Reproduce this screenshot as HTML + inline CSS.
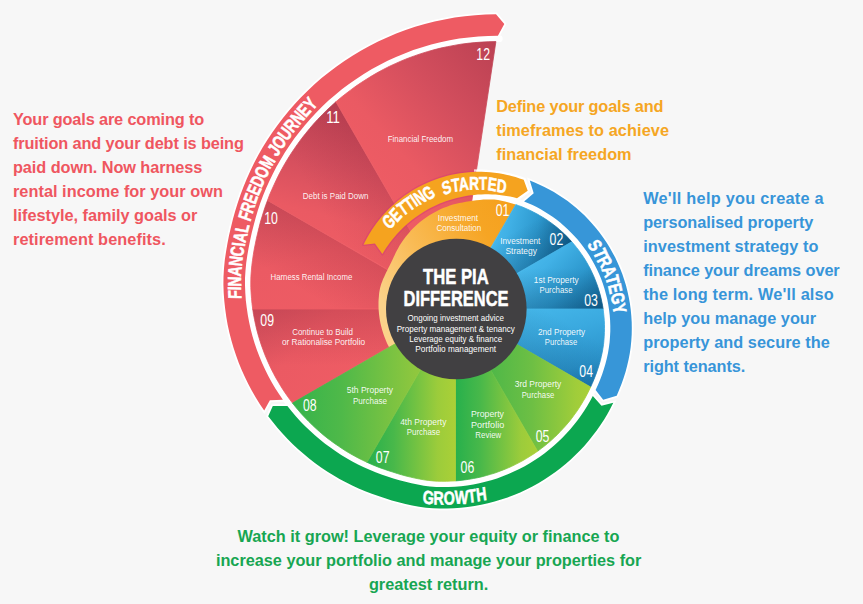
<!DOCTYPE html>
<html lang="en"><head><meta charset="utf-8"><title>The PIA Difference</title>
<style>
html,body{margin:0;padding:0}
body{width:863px;height:604px;overflow:hidden;background:#f7f7f7;position:relative;font-family:"Liberation Sans",sans-serif}
svg{position:absolute;left:0;top:0}
text{font-family:"Liberation Sans",sans-serif;fill:#fff;text-anchor:middle}
.l{fill-opacity:.93}
.t,.c{font-weight:bold}
.c{text-anchor:start;stroke:#fff;stroke-width:.55px}
.t{stroke:#fff;stroke-width:.5px}
.p{position:absolute;font-weight:bold;font-size:16.3px;line-height:24px;height:24px;white-space:nowrap;margin:0}
</style></head><body>
<svg width="863" height="604" viewBox="0 0 863 604">
<defs><linearGradient id="f9" gradientUnits="userSpaceOnUse" x1="455.5" y1="309.0" x2="455.5" y2="365.8"><stop offset="0" stop-color="#8a2238" stop-opacity="0.24"/><stop offset="1" stop-color="#8a2238" stop-opacity="0"/></linearGradient><linearGradient id="f10" gradientUnits="userSpaceOnUse" x1="455.5" y1="309.0" x2="425.1" y2="361.7"><stop offset="0" stop-color="#8a2238" stop-opacity="0.22"/><stop offset="1" stop-color="#8a2238" stop-opacity="0"/></linearGradient><linearGradient id="f11" gradientUnits="userSpaceOnUse" x1="455.5" y1="309.0" x2="397.5" y2="342.5"><stop offset="0" stop-color="#8a2238" stop-opacity="0.14"/><stop offset="1" stop-color="#8a2238" stop-opacity="0"/></linearGradient><linearGradient id="f2" gradientUnits="userSpaceOnUse" x1="455.5" y1="309.0" x2="436.7" y2="276.4"><stop offset="0" stop-color="#083a5c" stop-opacity="0.26"/><stop offset="1" stop-color="#083a5c" stop-opacity="0"/></linearGradient><linearGradient id="f3" gradientUnits="userSpaceOnUse" x1="455.5" y1="309.0" x2="455.5" y2="267.7"><stop offset="0" stop-color="#083a5c" stop-opacity="0.26"/><stop offset="1" stop-color="#083a5c" stop-opacity="0"/></linearGradient><linearGradient id="f4" gradientUnits="userSpaceOnUse" x1="455.5" y1="309.0" x2="477.3" y2="271.2"><stop offset="0" stop-color="#083a5c" stop-opacity="0.14"/><stop offset="1" stop-color="#083a5c" stop-opacity="0"/></linearGradient></defs>
<defs>
<linearGradient id="g2" gradientUnits="userSpaceOnUse" x1="515.9" y1="129.0" x2="595.1" y2="148.8"><stop offset="0" stop-color="#49baed"/><stop offset="0.2" stop-color="#41b1e6"/><stop offset="0.55" stop-color="#2d98ce"/><stop offset="1" stop-color="#0f5e8e"/></linearGradient>
<linearGradient id="g3" gradientUnits="userSpaceOnUse" x1="401.8" y1="388.5" x2="466.1" y2="450.7"><stop offset="0" stop-color="#49baed"/><stop offset="0.2" stop-color="#41b1e6"/><stop offset="0.55" stop-color="#2d98ce"/><stop offset="1" stop-color="#0f5e8e"/></linearGradient>
<linearGradient id="g4" gradientUnits="userSpaceOnUse" x1="121.2" y1="423.6" x2="147.0" y2="513.9"><stop offset="0" stop-color="#45b7ea"/><stop offset="0.35" stop-color="#3aa9df"/><stop offset="0.75" stop-color="#2b93cb"/><stop offset="1" stop-color="#1b79b2"/></linearGradient>
<linearGradient id="g5" gradientUnits="userSpaceOnUse" x1="492.4" y1="0.0" x2="590.6" y2="0.0"><stop offset="0" stop-color="#50b848"/><stop offset="0.4" stop-color="#6dbf44"/><stop offset="0.85" stop-color="#a0cd3a"/><stop offset="1" stop-color="#aad037"/></linearGradient>
<linearGradient id="g6" gradientUnits="userSpaceOnUse" x1="455.5" y1="0.0" x2="537.6" y2="0.0"><stop offset="0" stop-color="#27b04c"/><stop offset="0.3" stop-color="#48b84a"/><stop offset="0.8" stop-color="#9ccc3b"/><stop offset="1" stop-color="#aad037"/></linearGradient>
<linearGradient id="g7" gradientUnits="userSpaceOnUse" x1="367.0" y1="0.0" x2="455.5" y2="0.0"><stop offset="0" stop-color="#27b04c"/><stop offset="0.3" stop-color="#48b84a"/><stop offset="0.8" stop-color="#9ccc3b"/><stop offset="1" stop-color="#aad037"/></linearGradient>
<linearGradient id="g8" gradientUnits="userSpaceOnUse" x1="292.5" y1="0.0" x2="415.7" y2="0.0"><stop offset="0" stop-color="#35b34b"/><stop offset="0.4" stop-color="#4fb949"/><stop offset="1" stop-color="#8fc73e"/></linearGradient>
<linearGradient id="g9" gradientUnits="userSpaceOnUse" x1="373.1" y1="360.7" x2="285.0" y2="275.6"><stop offset="0" stop-color="#ee5c64"/><stop offset="0.5" stop-color="#eb5a63"/><stop offset="1" stop-color="#d9535f"/></linearGradient>
<linearGradient id="g10" gradientUnits="userSpaceOnUse" x1="109.3" y1="381.9" x2="73.2" y2="256.0"><stop offset="0" stop-color="#ee5c64"/><stop offset="0.5" stop-color="#eb5a63"/><stop offset="1" stop-color="#d9535f"/></linearGradient>
<linearGradient id="g11" gradientUnits="userSpaceOnUse" x1="-39.4" y1="157.6" x2="-4.2" y2="16.8"><stop offset="0" stop-color="#ee5c64"/><stop offset="0.22" stop-color="#ea5a63"/><stop offset="0.58" stop-color="#d34e5d"/><stop offset="1" stop-color="#bb4153"/></linearGradient>
<linearGradient id="g12" gradientUnits="userSpaceOnUse" x1="117.0" y1="-104.1" x2="256.1" y2="-227.9"><stop offset="0" stop-color="#ee5c64"/><stop offset="0.22" stop-color="#ea5a63"/><stop offset="0.58" stop-color="#d34e5d"/><stop offset="1" stop-color="#bb4153"/></linearGradient>
<linearGradient id="gor" gradientUnits="userSpaceOnUse" x1="380.0" y1="300.0" x2="520.0" y2="210.0"><stop offset="0" stop-color="#fbd28a"/><stop offset="0.35" stop-color="#f9bb55"/><stop offset="0.75" stop-color="#f6a524"/><stop offset="1" stop-color="#f5a01c"/></linearGradient>
</defs>
<path d="M437.6,207.4 L441.0,205.9 L444.5,204.5 L448.1,203.2 L451.7,202.0 L455.5,201.0 L459.3,200.1 L463.1,199.3 L467.0,198.8 L471.0,198.2 L475.1,197.6 L479.2,197.2 L483.4,196.8 L487.6,196.6 L491.9,196.6 L496.2,196.9 L500.4,197.5 L504.6,198.4 L508.7,199.5 L512.9,200.7 L517.1,202.0 L521.2,203.5 L525.3,205.1 L529.4,206.9 L533.5,208.8 L537.5,210.9 L541.5,213.1 L545.4,215.5 L549.3,218.1 L553.1,220.8 L556.8,223.6 L560.5,226.6 L564.0,229.8 L567.5,233.0 L570.9,236.5 L574.2,240.1 L577.3,243.8 L580.4,247.7 L583.3,251.7 L586.1,255.8 L588.7,260.1 L591.2,264.5 L593.5,269.0 L595.7,273.6 L597.7,278.3 L599.6,283.1 L601.2,288.0 L602.7,293.0 L604.0,298.1 L605.1,303.2 L605.9,308.4 L606.6,313.7 L607.1,319.0 L607.3,324.4 L607.4,329.7 L607.2,335.1 L606.8,340.5 L606.2,345.9 L605.4,351.3 L604.3,356.6 L602.9,361.9 L601.4,367.2 L599.7,372.4 L597.8,377.6 L595.7,382.7 L593.5,387.8 L591.1,392.8 L588.5,397.8 L585.8,402.7 L582.8,407.5 L579.8,412.2 L576.5,416.8 L573.1,421.3 L569.5,425.7 L565.7,430.0 L561.8,434.2 L557.7,438.3 L553.4,442.2 L549.1,446.0 L544.5,449.7 L539.9,453.1 L535.0,456.5 L530.1,459.7 L525.0,462.7 L519.9,465.5 L514.5,468.1 L509.1,470.6 L503.6,472.9 L498.0,475.0 L492.3,476.8 L486.5,478.5 L480.7,480.0 L474.8,481.2 L468.8,482.3 L462.8,483.1 L456.7,483.7 L450.6,484.1 L444.5,484.2 L438.4,484.1 L432.2,483.8 L426.1,483.1 L420.0,482.1 L414.0,480.9 L408.0,479.5 L402.0,477.9 L396.1,476.2 L390.2,474.3 L384.3,472.4 L378.4,470.2 L372.6,467.9 L366.9,465.4 L361.2,462.7 L355.5,459.8 L350.0,456.8 L344.5,453.5 L339.1,450.1 L333.8,446.5 L328.6,442.7 L323.5,438.7 L318.5,434.6 L313.6,430.2 L308.8,425.7 L304.2,421.0 L299.7,416.2 L295.3,411.1 L291.1,405.9 L287.0,400.6 L283.1,395.1 L279.4,389.4 L275.8,383.6 L272.5,377.6 L269.3,371.5 L266.3,365.3 L263.5,358.9 L260.9,352.4 L258.5,345.8 L256.4,339.0 L254.4,332.2 L252.8,325.2 L251.3,318.2 L250.1,311.1 L249.1,303.9 L248.4,296.7 L248.0,289.4 L247.9,282.1 L248.1,274.7 L248.7,267.4 L249.5,260.0 L250.7,252.7 L252.0,245.3 L253.6,238.0 L255.3,230.7 L257.1,223.3 L259.2,216.0 L261.5,208.6 L264.0,201.3 L266.8,194.1 L269.8,186.9 L273.1,179.7 L276.7,172.6 L280.4,165.6 L284.5,158.6 L288.8,151.8 L293.3,145.0 L298.1,138.4 L303.1,131.8 L308.4,125.4 L314.0,119.2 L319.8,113.1 L325.8,107.1 L332.1,101.3 L338.6,95.7 L345.4,90.3 L352.4,85.1 L359.6,80.1 L367.0,75.4 L374.7,70.9 L382.6,66.6 L390.6,62.6 L398.9,58.9 L407.3,55.4 L415.9,52.3 L424.7,49.4 L433.6,46.9 L442.7,44.7 L451.9,42.8 L461.2,41.3 L470.6,40.1 L480.1,39.3 L489.7,38.8 L499.3,38.7" fill="none" stroke="#fff" stroke-width="6.8" stroke-linecap="round"/>
<path d="M455.5,309.0 L292.5,403.1 L289.5,399.1 L286.6,395.0 L283.8,390.9 L281.1,386.7 L278.5,382.3 L275.9,377.9 L273.5,373.4 L271.2,368.9 L269.0,364.2 L266.9,359.5 L264.9,354.8 L263.1,349.9 L261.3,345.0 L259.7,340.0 L258.2,335.0 L256.8,329.9 L255.6,324.7 L254.5,319.5 L253.5,314.3 L252.7,309.0Z" fill="url(#g9)" stroke="url(#g9)" stroke-width="0.8" stroke-linejoin="round"/>
<path d="M455.5,309.0 L291.5,401.8 L288.6,397.8 L285.8,393.8 L283.0,389.7 L280.4,385.5 L277.8,381.2 L275.4,376.9 L273.0,372.5 L270.8,368.0 L268.6,363.4 L266.6,358.7 L264.6,354.0 L262.8,349.3 L261.1,344.4 L259.5,339.5 L258.1,334.6 L256.8,329.5 L255.6,324.5 L254.5,319.4 L253.5,314.2 L252.7,309.0Z" fill="url(#f9)"/>
<path d="M455.5,309.0 L252.7,309.0 L252.0,303.7 L251.5,298.3 L251.1,292.9 L250.8,287.5 L250.8,282.0 L250.9,276.6 L251.3,271.1 L251.8,265.7 L252.5,260.3 L253.3,254.8 L254.2,249.4 L255.3,243.9 L256.4,238.5 L257.7,233.1 L259.0,227.6 L260.4,222.1 L262.0,216.7 L263.7,211.3 L265.5,205.8 L267.5,200.4Z" fill="url(#g10)" stroke="url(#g10)" stroke-width="0.8" stroke-linejoin="round"/>
<path d="M455.5,309.0 L252.5,307.2 L251.8,302.0 L251.3,296.7 L251.0,291.4 L250.8,286.0 L250.8,280.7 L251.0,275.3 L251.4,270.0 L251.9,264.6 L252.6,259.3 L253.4,253.9 L254.4,248.6 L255.4,243.2 L256.6,237.9 L257.8,232.5 L259.1,227.2 L260.5,221.8 L262.1,216.4 L263.7,211.1 L265.5,205.7 L267.5,200.4Z" fill="url(#f10)"/>
<path d="M455.5,309.0 L267.5,200.4 L269.5,195.0 L271.8,189.7 L274.2,184.4 L276.7,179.1 L279.3,173.8 L282.1,168.6 L285.0,163.4 L288.1,158.3 L291.3,153.2 L294.7,148.2 L298.2,143.2 L301.8,138.3 L305.6,133.5 L309.5,128.7 L313.5,124.0 L317.7,119.4 L322.1,114.9 L326.5,110.4 L331.2,106.1 L335.9,101.8Z" fill="url(#g11)" stroke="url(#g11)" stroke-width="0.8" stroke-linejoin="round"/>
<path d="M455.5,309.0 L268.1,198.6 L270.2,193.3 L272.5,188.1 L274.8,182.9 L277.4,177.7 L280.0,172.5 L282.8,167.4 L285.7,162.3 L288.7,157.2 L291.9,152.3 L295.2,147.3 L298.7,142.5 L302.3,137.6 L306.0,132.9 L309.9,128.2 L313.9,123.6 L318.0,119.1 L322.3,114.6 L326.7,110.3 L331.2,106.0 L335.9,101.8Z" fill="url(#f11)"/>
<path d="M455.5,309.0 L335.9,101.8 L340.7,97.7 L345.7,93.8 L350.8,89.9 L356.0,86.1 L361.3,82.5 L366.8,79.0 L372.3,75.6 L378.0,72.3 L383.8,69.2 L389.7,66.2 L395.8,63.4 L401.9,60.7 L408.1,58.2 L414.4,55.9 L420.8,53.7 L427.3,51.7 L433.9,49.8 L440.6,48.1 L447.3,46.7 L454.1,45.4 L460.9,44.2 L467.9,43.3 L474.8,42.6 L481.8,42.1 L488.9,41.7 L495.9,41.6Z" fill="url(#g12)" stroke="url(#g12)" stroke-width="0.8" stroke-linejoin="round"/>
<path d="M455.5,309.0 L392.5,353.1 L391.3,351.1 L390.1,349.1 L389.0,347.0 L387.9,345.0 L386.9,342.9 L386.0,340.7 L385.1,338.6 L384.3,336.4 L383.5,334.3 L382.8,332.1 L382.1,329.8 L381.5,327.6 L380.9,325.3 L380.4,323.1 L380.0,320.8 L379.6,318.5 L379.3,316.2 L379.0,313.9 L378.8,311.6 L378.6,309.2 L378.5,306.9 L378.5,304.5 L378.5,302.2 L378.6,299.8 L378.8,297.5 L379.0,295.1 L379.2,292.8 L379.6,290.4 L380.1,288.1 L380.7,285.8 L381.4,283.5 L382.3,281.3 L383.1,279.1 L384.1,276.9 L385.1,274.7 L386.1,272.6 L387.2,270.4 L388.2,268.3 L389.3,266.2 L390.4,264.0 L391.5,261.8 L392.6,259.6 L393.6,257.3 L394.7,254.9 L395.8,252.6 L397.0,250.3 L398.3,247.9 L399.6,245.6 L401.1,243.3 L402.6,241.1 L404.2,238.8 L405.9,236.6 L407.6,234.4 L409.5,232.3 L411.4,230.1 L413.4,228.1 L415.5,226.0 L417.7,224.1 L420.0,222.1 L422.3,220.3 L424.7,218.4 L427.2,216.7 L429.8,215.0 L432.5,213.4 L435.2,211.9 L438.0,210.5 L440.9,209.1 L443.8,207.8 L446.9,206.7 L449.9,205.6 L453.0,204.6 L456.2,203.8 L459.5,203.0 L462.7,202.4 L466.0,201.8 L469.4,201.3 L472.8,200.8 L476.3,200.3 L479.9,199.9 L483.4,199.6 L487.1,199.4 L490.7,199.4 L494.3,199.6 L498.0,200.0 L501.5,200.7 L505.1,201.5 L508.7,202.4 L512.2,203.5 L515.8,204.6Z" fill="url(#gor)"/>
<path d="M455.5,309.0 L515.8,204.6 L518.8,205.7 L521.9,206.8 L524.9,208.1 L527.9,209.4 L530.9,210.8 L533.8,212.3 L536.8,213.8 L539.7,215.5 L542.6,217.2 L545.5,219.0 L548.3,220.9 L551.1,222.9 L553.9,225.0 L556.6,227.1 L559.3,229.4 L561.9,231.7 L564.5,234.1 L567.0,236.6 L569.4,239.2 L571.8,241.8Z" fill="url(#g2)" stroke="url(#g2)" stroke-width="0.8" stroke-linejoin="round"/>
<path d="M455.5,309.0 L516.8,205.0 L519.8,206.0 L522.8,207.2 L525.7,208.4 L528.7,209.7 L531.6,211.1 L534.5,212.6 L537.4,214.2 L540.3,215.8 L543.1,217.5 L546.0,219.3 L548.7,221.2 L551.5,223.2 L554.2,225.2 L556.8,227.4 L559.5,229.6 L562.1,231.9 L564.6,234.2 L567.1,236.7 L569.5,239.2 L571.8,241.8Z" fill="url(#f2)"/>
<path d="M455.5,309.0 L571.8,241.8 L574.2,244.6 L576.5,247.4 L578.7,250.2 L580.8,253.2 L582.9,256.2 L584.9,259.3 L586.8,262.5 L588.6,265.7 L590.4,269.1 L592.0,272.4 L593.6,275.9 L595.0,279.3 L596.4,282.9 L597.7,286.5 L598.8,290.1 L599.9,293.8 L600.9,297.6 L601.7,301.3 L602.5,305.2 L603.1,309.0Z" fill="url(#g3)" stroke="url(#g3)" stroke-width="0.8" stroke-linejoin="round"/>
<path d="M455.5,309.0 L572.6,242.7 L574.9,245.4 L577.1,248.2 L579.3,251.1 L581.4,254.0 L583.4,257.0 L585.3,260.1 L587.2,263.2 L589.0,266.4 L590.7,269.7 L592.3,273.0 L593.8,276.4 L595.2,279.8 L596.6,283.3 L597.8,286.8 L598.9,290.4 L600.0,294.1 L600.9,297.7 L601.7,301.5 L602.5,305.2 L603.1,309.0Z" fill="url(#f3)"/>
<path d="M455.5,309.0 L603.1,309.0 L603.6,312.9 L604.0,316.8 L604.3,320.7 L604.5,324.7 L604.5,328.6 L604.4,332.6 L604.2,336.6 L603.9,340.5 L603.5,344.5 L602.9,348.5 L602.2,352.4 L601.3,356.4 L600.4,360.3 L599.3,364.2 L598.1,368.1 L596.8,371.9 L595.4,375.7 L593.9,379.5 L592.3,383.3 L590.6,387.0Z" fill="url(#g4)" stroke="url(#g4)" stroke-width="0.8" stroke-linejoin="round"/>
<path d="M455.5,309.0 L603.3,310.3 L603.7,314.1 L604.1,318.0 L604.3,321.8 L604.5,325.7 L604.5,329.6 L604.4,333.5 L604.2,337.4 L603.8,341.3 L603.4,345.3 L602.8,349.2 L602.1,353.0 L601.2,356.9 L600.3,360.8 L599.2,364.6 L598.0,368.4 L596.7,372.2 L595.3,375.9 L593.9,379.6 L592.3,383.3 L590.6,387.0Z" fill="url(#f4)"/>
<path d="M455.5,309.0 L590.6,387.0 L588.9,390.7 L587.0,394.4 L585.1,398.0 L583.0,401.6 L580.8,405.2 L578.6,408.7 L576.3,412.1 L573.8,415.5 L571.3,418.9 L568.7,422.2 L565.9,425.4 L563.1,428.5 L560.2,431.6 L557.3,434.7 L554.2,437.6 L551.0,440.5 L547.8,443.3 L544.5,446.0 L541.1,448.6 L537.6,451.2Z" fill="url(#g5)" stroke="url(#g5)" stroke-width="0.8" stroke-linejoin="round"/>
<path d="M455.5,309.0 L537.6,451.2 L534.0,453.7 L530.4,456.0 L526.7,458.3 L523.0,460.5 L519.1,462.6 L515.2,464.6 L511.3,466.5 L507.2,468.3 L503.2,469.9 L499.0,471.5 L494.9,473.0 L490.6,474.3 L486.4,475.5 L482.1,476.7 L477.7,477.7 L473.3,478.5 L468.9,479.3 L464.5,479.9 L460.0,480.5 L455.5,480.9Z" fill="url(#g6)" stroke="url(#g6)" stroke-width="0.8" stroke-linejoin="round"/>
<path d="M455.5,309.0 L455.5,480.9 L451.0,481.1 L446.5,481.3 L441.9,481.3 L437.4,481.2 L432.9,480.9 L428.3,480.4 L423.8,479.8 L419.4,479.0 L414.9,478.1 L410.5,477.1 L406.0,476.0 L401.6,474.8 L397.3,473.5 L392.9,472.1 L388.5,470.7 L384.2,469.2 L379.8,467.7 L375.5,466.0 L371.2,464.2 L367.0,462.3Z" fill="url(#g7)" stroke="url(#g7)" stroke-width="0.8" stroke-linejoin="round"/>
<path d="M455.5,309.0 L367.0,462.3 L362.8,460.3 L358.6,458.2 L354.5,456.0 L350.4,453.7 L346.3,451.3 L342.3,448.7 L338.4,446.1 L334.5,443.4 L330.6,440.6 L326.8,437.7 L323.1,434.7 L319.4,431.5 L315.8,428.3 L312.3,425.0 L308.8,421.6 L305.4,418.1 L302.0,414.5 L298.8,410.8 L295.6,407.0 L292.5,403.1Z" fill="url(#g8)" stroke="url(#g8)" stroke-width="0.8" stroke-linejoin="round"/>
<circle cx="456.3" cy="309" r="70.3" fill="#414042"/>
<path d="M601.5,405.8 L592.8,395.9 L590.1,400.9 L587.2,405.9 L584.2,410.7 L581.0,415.5 L577.6,420.2 L574.0,424.7 L570.3,429.2 L566.4,433.5 L562.4,437.7 L558.2,441.8 L553.8,445.8 L549.3,449.6 L544.7,453.2 L539.9,456.7 L534.9,460.0 L529.8,463.2 L524.7,466.2 L519.3,469.0 L513.9,471.6 L508.4,474.1 L502.7,476.3 L497.0,478.4 L491.2,480.2 L485.3,481.8 L479.3,483.2 L473.3,484.4 L467.2,485.4 L461.1,486.2 L454.9,486.7 L448.7,487.0 L442.5,487.1 L436.2,486.9 L430.0,486.5 L423.8,485.7 L417.7,484.6 L411.5,483.3 L405.5,481.8 L399.4,480.2 L393.4,478.4 L387.4,476.4 L381.4,474.4 L375.5,472.2 L369.6,469.8 L363.8,467.2 L358.0,464.4 L352.3,461.4 L346.7,458.2 L341.2,454.9 L335.7,451.3 L330.4,447.6 L325.1,443.7 L319.9,439.6 L314.9,435.3 L310.0,430.8 L305.2,426.2 L300.5,421.4 L296.0,416.4 L291.6,411.2 L287.4,405.9 L272.8,406.1 L268.2,416.2 L272.8,422.1 L277.6,427.9 L282.5,433.6 L287.6,439.0 L292.8,444.2 L298.2,449.2 L303.8,454.1 L309.4,458.7 L315.2,463.2 L321.1,467.4 L327.1,471.4 L333.3,475.3 L339.5,478.9 L345.8,482.3 L352.2,485.5 L358.6,488.5 L365.2,491.2 L371.8,493.8 L378.4,496.1 L385.1,498.3 L391.8,500.4 L398.6,502.3 L405.4,504.0 L412.2,505.5 L419.1,506.7 L426.0,507.7 L433.0,508.3 L439.9,508.6 L446.9,508.6 L453.8,508.3 L460.8,507.8 L467.6,507.1 L474.5,506.1 L481.2,504.8 L488.0,503.3 L494.6,501.6 L501.1,499.6 L507.6,497.4 L514.0,495.0 L520.2,492.4 L526.4,489.5 L532.4,486.5 L538.3,483.2 L544.0,479.7 L549.6,476.1 L555.1,472.2 L560.4,468.2 L565.6,464.0 L570.5,459.7 L575.4,455.1 L580.0,450.5 L584.5,445.7 L588.7,440.7 L592.8,435.6 L596.7,430.4 L600.5,425.1 L604.0,419.7 L607.3,414.2 L610.4,408.5 L613.3,402.8Z" fill="#0ca750" stroke="#fff" stroke-width="3.5" paint-order="stroke" stroke-linejoin="miter"/>
<path d="M533.7,193.3 L524.1,201.5 L528.3,203.2 L532.5,205.1 L536.6,207.1 L540.7,209.3 L544.7,211.7 L548.7,214.2 L552.6,216.8 L556.4,219.6 L560.2,222.6 L563.8,225.7 L567.4,229.0 L570.9,232.4 L574.3,235.9 L577.6,239.6 L580.8,243.5 L583.8,247.4 L586.7,251.6 L589.5,255.8 L592.1,260.2 L594.6,264.7 L596.9,269.3 L599.1,274.0 L601.1,278.8 L602.9,283.8 L604.5,288.8 L605.9,293.9 L607.2,299.0 L608.2,304.3 L609.0,309.6 L609.7,314.9 L610.1,320.3 L610.3,325.8 L610.3,331.2 L610.0,336.7 L609.6,342.2 L608.9,347.6 L608.0,353.1 L606.8,358.5 L605.4,363.9 L603.8,369.2 L602.1,374.5 L600.1,379.7 L597.9,384.9 L595.6,390.0 L603.2,399.8 L616.7,395.7 L619.2,389.8 L621.6,383.8 L623.7,377.8 L625.6,371.7 L627.2,365.6 L628.6,359.4 L629.8,353.2 L630.7,347.0 L631.3,340.7 L631.7,334.4 L631.8,328.2 L631.7,322.0 L631.3,315.8 L630.7,309.6 L629.9,303.5 L628.8,297.5 L627.5,291.5 L626.0,285.6 L624.2,279.8 L622.3,274.1 L620.1,268.5 L617.7,263.0 L615.2,257.6 L612.4,252.4 L609.5,247.3 L606.4,242.3 L603.1,237.5 L599.7,232.8 L596.1,228.2 L592.4,223.9 L588.6,219.7 L584.6,215.6 L580.5,211.7 L576.3,208.0 L572.0,204.5 L567.6,201.1 L563.1,198.0 L558.5,195.0 L553.9,192.1 L549.2,189.5 L544.4,187.0 L539.6,184.7 L534.7,182.6 L529.8,180.6Z" fill="#3796d8" stroke="#fff" stroke-width="3.5" paint-order="stroke" stroke-linejoin="miter"/>
<path d="M269.9,400.3 L282.9,399.8 L279.0,394.1 L275.2,388.2 L271.7,382.2 L268.3,376.0 L265.2,369.7 L262.2,363.3 L259.5,356.7 L256.9,350.0 L254.6,343.2 L252.5,336.3 L250.7,329.2 L249.1,322.1 L247.8,314.9 L246.7,307.6 L245.8,300.2 L245.3,292.8 L245.0,285.3 L245.0,277.9 L245.5,270.4 L246.2,262.9 L247.3,255.4 L248.6,247.9 L250.1,240.4 L251.7,232.9 L253.6,225.4 L255.6,217.9 L257.8,210.5 L260.3,203.0 L263.1,195.6 L266.1,188.2 L269.4,180.9 L272.9,173.7 L276.6,166.5 L280.7,159.4 L285.0,152.3 L289.5,145.4 L294.3,138.6 L299.4,131.9 L304.7,125.4 L310.3,119.0 L316.1,112.7 L322.2,106.6 L328.5,100.6 L335.1,94.9 L341.9,89.3 L349.0,84.0 L356.3,78.9 L363.8,74.0 L371.5,69.3 L379.5,64.9 L387.6,60.8 L396.0,56.9 L404.6,53.4 L413.3,50.1 L422.2,47.2 L431.2,44.5 L440.4,42.2 L449.7,40.3 L459.2,38.6 L468.7,37.4 L478.4,36.5 L488.1,36.0 L497.9,35.8 L504.3,23.9 L496.0,14.3 L485.5,14.5 L475.2,15.2 L464.9,16.2 L454.7,17.6 L444.6,19.4 L434.6,21.5 L424.8,24.0 L415.1,26.8 L405.6,30.0 L396.2,33.6 L387.1,37.4 L378.1,41.5 L369.4,46.0 L360.8,50.7 L352.5,55.7 L344.4,60.9 L336.6,66.4 L329.0,72.2 L321.6,78.1 L314.5,84.3 L307.7,90.7 L301.1,97.3 L294.8,104.0 L288.7,110.9 L283.0,118.0 L277.5,125.2 L272.3,132.6 L267.3,140.0 L262.6,147.6 L258.2,155.3 L254.1,163.1 L250.3,170.9 L246.7,178.9 L243.4,186.9 L240.4,194.9 L237.7,203.0 L235.2,211.1 L232.9,219.3 L230.9,227.4 L229.0,235.6 L227.4,243.7 L226.0,251.9 L224.8,260.1 L224.0,268.3 L223.5,276.5 L223.4,284.7 L223.7,292.9 L224.3,301.0 L225.2,309.0 L226.3,317.0 L227.7,324.9 L229.4,332.8 L231.4,340.5 L233.6,348.1 L236.1,355.6 L238.8,363.0 L241.8,370.2 L245.0,377.3 L248.4,384.3 L252.0,391.1 L255.9,397.7 L259.9,404.2 L264.2,410.6Z" fill="#ee5b63" stroke="#fff" stroke-width="3.5" paint-order="stroke" stroke-linejoin="miter"/>
<clipPath id="cw"><rect x="474" y="150" width="100" height="80"/></clipPath>
<path d="M363.5,244.7 L365.4,240.9 L367.4,237.2 L369.6,233.5 L371.9,229.8 L374.3,226.3 L376.8,222.8 L379.4,219.4 L382.2,216.1 L385.0,212.9 L388.0,209.8 L391.1,206.8 L394.3,203.9 L397.6,201.1 L401.0,198.4 L404.4,195.8 L408.0,193.4 L411.6,191.0 L415.3,188.8 L419.1,186.7 L423.0,184.8 L426.9,182.9 L430.9,181.2 L434.9,179.7 L439.0,178.2 L443.2,177.0 L447.4,175.8 L451.6,174.8 L455.8,173.9 L460.1,173.2 L464.4,172.7 L468.7,172.2 L473.0,171.9 L477.3,171.8 L481.6,171.8 L485.9,172.0 L490.2,172.3 L494.5,172.7 L498.8,173.3 L503.0,174.0 L507.2,174.9 L511.4,175.9 L515.5,177.1 L519.6,178.4 L523.7,179.8 L527.7,190.7 L517.0,198.2 L513.5,197.3 L510.0,196.6 L506.4,195.9 L502.9,195.4 L499.3,194.9 L495.7,194.6 L492.1,194.4 L488.5,194.3 L484.9,194.3 L481.4,194.4 L477.8,194.6 L474.2,194.9 L470.7,195.3 L467.2,195.8 L463.7,196.4 L460.2,197.2 L456.7,198.0 L453.3,198.9 L449.9,199.9 L446.5,201.1 L443.2,202.3 L439.9,203.6 L436.7,205.0 L433.5,206.5 L430.3,208.1 L427.2,209.8 L424.2,211.6 L421.2,213.5 L418.2,215.4 L415.3,217.5 L412.5,219.6 L409.8,221.8 L407.1,224.1 L404.4,226.5 L401.9,228.9 L399.4,231.5 L397.0,234.1 L394.7,236.7 L392.4,239.5 L390.2,242.3 L388.1,245.2 L386.1,248.1 L384.2,251.1 L382.4,254.1 L374.9,243.5Z" fill="none" stroke="#fff" stroke-width="4.6" clip-path="url(#cw)"/>
<clipPath id="cs"><path d="M300,120 L479.8,148 L476.8,168 L472.2,198 L463,260 L340,280Z"/></clipPath>
<path d="M363.5,244.7 L365.4,240.9 L367.4,237.2 L369.6,233.5 L371.9,229.8 L374.3,226.3 L376.8,222.8 L379.4,219.4 L382.2,216.1 L385.0,212.9 L388.0,209.8 L391.1,206.8 L394.3,203.9 L397.6,201.1 L401.0,198.4 L404.4,195.8 L408.0,193.4 L411.6,191.0 L415.3,188.8 L419.1,186.7 L423.0,184.8 L426.9,182.9 L430.9,181.2 L434.9,179.7 L439.0,178.2 L443.2,177.0 L447.4,175.8 L451.6,174.8 L455.8,173.9 L460.1,173.2 L464.4,172.7 L468.7,172.2 L473.0,171.9 L477.3,171.8 L481.6,171.8 L485.9,172.0 L490.2,172.3 L494.5,172.7 L498.8,173.3 L503.0,174.0 L507.2,174.9 L511.4,175.9 L515.5,177.1 L519.6,178.4 L523.7,179.8 L527.7,190.7 L517.0,198.2 L513.5,197.3 L510.0,196.6 L506.4,195.9 L502.9,195.4 L499.3,194.9 L495.7,194.6 L492.1,194.4 L488.5,194.3 L484.9,194.3 L481.4,194.4 L477.8,194.6 L474.2,194.9 L470.7,195.3 L467.2,195.8 L463.7,196.4 L460.2,197.2 L456.7,198.0 L453.3,198.9 L449.9,199.9 L446.5,201.1 L443.2,202.3 L439.9,203.6 L436.7,205.0 L433.5,206.5 L430.3,208.1 L427.2,209.8 L424.2,211.6 L421.2,213.5 L418.2,215.4 L415.3,217.5 L412.5,219.6 L409.8,221.8 L407.1,224.1 L404.4,226.5 L401.9,228.9 L399.4,231.5 L397.0,234.1 L394.7,236.7 L392.4,239.5 L390.2,242.3 L388.1,245.2 L386.1,248.1 L384.2,251.1 L382.4,254.1 L374.9,243.5Z" fill="none" stroke="#d23a78" stroke-opacity=".45" stroke-width="2.6" stroke-linejoin="round" clip-path="url(#cs)"/>
<path d="M363.5,244.7 L365.4,240.9 L367.4,237.2 L369.6,233.5 L371.9,229.8 L374.3,226.3 L376.8,222.8 L379.4,219.4 L382.2,216.1 L385.0,212.9 L388.0,209.8 L391.1,206.8 L394.3,203.9 L397.6,201.1 L401.0,198.4 L404.4,195.8 L408.0,193.4 L411.6,191.0 L415.3,188.8 L419.1,186.7 L423.0,184.8 L426.9,182.9 L430.9,181.2 L434.9,179.7 L439.0,178.2 L443.2,177.0 L447.4,175.8 L451.6,174.8 L455.8,173.9 L460.1,173.2 L464.4,172.7 L468.7,172.2 L473.0,171.9 L477.3,171.8 L481.6,171.8 L485.9,172.0 L490.2,172.3 L494.5,172.7 L498.8,173.3 L503.0,174.0 L507.2,174.9 L511.4,175.9 L515.5,177.1 L519.6,178.4 L523.7,179.8 L527.7,190.7 L517.0,198.2 L513.5,197.3 L510.0,196.6 L506.4,195.9 L502.9,195.4 L499.3,194.9 L495.7,194.6 L492.1,194.4 L488.5,194.3 L484.9,194.3 L481.4,194.4 L477.8,194.6 L474.2,194.9 L470.7,195.3 L467.2,195.8 L463.7,196.4 L460.2,197.2 L456.7,198.0 L453.3,198.9 L449.9,199.9 L446.5,201.1 L443.2,202.3 L439.9,203.6 L436.7,205.0 L433.5,206.5 L430.3,208.1 L427.2,209.8 L424.2,211.6 L421.2,213.5 L418.2,215.4 L415.3,217.5 L412.5,219.6 L409.8,221.8 L407.1,224.1 L404.4,226.5 L401.9,228.9 L399.4,231.5 L397.0,234.1 L394.7,236.7 L392.4,239.5 L390.2,242.3 L388.1,245.2 L386.1,248.1 L384.2,251.1 L382.4,254.1 L374.9,243.5Z" fill="#f5a31f"/>
<defs>
<path id="w1" d="M244.0,352.3 L243.9,351.5 L243.7,350.6 L243.6,349.7 L243.5,348.9 L243.4,348.0 L243.3,347.1 L243.1,346.2 L243.0,345.4 L242.9,344.5 L242.8,343.6 L242.7,342.7 L242.6,341.9 L242.5,341.0 L242.4,340.1 L242.3,339.2 L242.2,338.3 L242.1,337.5 L242.0,336.6 L241.9,335.7 L241.8,334.8 L241.7,333.9 L241.7,333.0 L241.6,332.1 L241.5,331.2 L241.4,330.3 L241.3,329.5 L241.3,328.6 L241.2,327.7 L241.1,326.8 L241.1,325.9 L241.0,325.0 L240.9,324.1 L240.9,323.2 L240.8,322.3 L240.8,321.4 L240.7,320.5 L240.7,319.6 L240.6,318.7 L240.6,317.8 L240.5,316.9 L240.5,316.0 L240.4,315.1 L240.4,314.2 L240.3,313.3 L240.3,312.4 L240.3,311.4 L240.2,310.5 L240.2,309.6 L240.2,308.7 L240.2,307.8 L240.1,306.9 L240.1,306.0 L240.1,305.1 L240.1,304.2 L240.1,303.2 L240.1,302.3 L240.0,301.4 L240.0,300.5 L240.0,299.6 L240.0,298.7 L240.0,297.7 L240.0,296.8 L240.0,295.9 L240.1,295.0 L240.1,294.1 L240.1,293.2 L240.1,292.2 L240.1,291.3 L240.1,290.4 L240.2,289.5 L240.2,288.6 L240.2,287.6 L240.3,286.7 L240.3,285.8 L240.4,284.9 L240.4,283.9 L240.5,283.0 L240.5,282.1 L240.6,281.2 L240.6,280.3 L240.7,279.3 L240.7,278.4 L240.8,277.5 L240.9,276.6 L240.9,275.6 L241.0,274.7 L241.1,273.8 L241.2,272.9 L241.3,271.9 L241.3,271.0 L241.4,270.1 L241.5,269.2 L241.6,268.2 L241.7,267.3 L241.8,266.4 L241.9,265.5 L242.0,264.6 L242.1,263.6 L242.2,262.7 L242.3,261.8 L242.4,260.9 L242.5,259.9 L242.7,259.0 L242.8,258.1 L242.9,257.2 L243.0,256.2 L243.1,255.3 L243.3,254.4 L243.4,253.5 L243.5,252.5 L243.7,251.6 L243.8,250.7 L243.9,249.8 L244.1,248.9 L244.2,247.9 L244.4,247.0 L244.5,246.1 L244.6,245.2 L244.8,244.2 L244.9,243.3 L245.1,242.4 L245.2,241.5 L245.4,240.5 L245.6,239.6 L245.7,238.7 L245.9,237.8 L246.0,236.9 L246.2,235.9 L246.4,235.0 L246.5,234.1 L246.7,233.2 L246.9,232.2 L247.0,231.3 L247.2,230.4 L247.4,229.5 L247.6,228.6 L247.7,227.6 L247.9,226.7 L248.1,225.8 L248.3,224.9 L248.4,223.9 L248.6,223.0 L248.8,222.1 L249.0,221.2 L249.2,220.2 L249.4,219.3 L249.6,218.4 L249.8,217.5 L249.9,216.5 L250.1,215.6 L250.3,214.7 L250.5,213.8 L250.7,212.8 L250.9,211.9 L251.1,211.0 L251.3,210.0 L251.5,209.1 L251.7,208.2 L251.9,207.3 L252.1,206.3 L252.3,205.4 L252.5,204.5 L252.8,203.6 L253.0,202.6 L253.2,201.7 L253.4,200.8 L253.6,199.8 L253.8,198.9 L254.1,198.0 L254.3,197.1 L254.5,196.1 L254.8,195.2 L255.0,194.3 L255.2,193.4 L255.5,192.4 L255.7,191.5 L255.9,190.6 L256.2,189.7 L256.4,188.7 L256.7,187.8 L256.9,186.9 L257.2,186.0 L257.4,185.0 L257.7,184.1 L257.9,183.2 L258.2,182.3 L258.4,181.4 L258.7,180.4 L259.0,179.5 L259.2,178.6 L259.5,177.7 L259.8,176.8 L260.0,175.8 L260.3,174.9 L260.6,174.0 L260.9,173.1 L261.2,172.2 L261.4,171.2 L261.7,170.3"/>
<path id="w2" d="M233.7,277.0 L233.9,276.2 L234.1,275.3 L234.3,274.5 L234.5,273.6 L234.7,272.8 L234.9,271.9 L235.1,271.1 L235.3,270.2 L235.5,269.3 L235.8,268.5 L236.0,267.6 L236.2,266.8 L236.4,265.9 L236.6,265.1 L236.8,264.2 L237.1,263.3 L237.3,262.5 L237.5,261.6 L237.7,260.8 L238.0,259.9 L238.2,259.0 L238.4,258.2 L238.7,257.3 L238.9,256.5 L239.1,255.6 L239.4,254.7 L239.6,253.9 L239.8,253.0 L240.1,252.2 L240.3,251.3 L240.6,250.4 L240.8,249.6 L241.0,248.7 L241.3,247.9 L241.5,247.0 L241.8,246.1 L242.0,245.3 L242.3,244.4 L242.5,243.6 L242.8,242.7 L243.0,241.8 L243.3,241.0 L243.5,240.1 L243.8,239.2 L244.1,238.4 L244.3,237.5 L244.6,236.6 L244.8,235.8 L245.1,234.9 L245.3,234.0 L245.6,233.2 L245.9,232.3 L246.1,231.4 L246.4,230.6 L246.7,229.7 L247.0,228.8 L247.2,228.0 L247.5,227.1 L247.8,226.2 L248.1,225.4 L248.4,224.5 L248.6,223.6 L248.9,222.8 L249.2,221.9 L249.5,221.0 L249.8,220.2 L250.1,219.3 L250.4,218.4 L250.7,217.6 L251.0,216.7 L251.3,215.8 L251.6,215.0 L251.9,214.1 L252.2,213.2 L252.5,212.4 L252.8,211.5 L253.1,210.6 L253.4,209.8 L253.7,208.9 L254.0,208.0 L254.4,207.2 L254.7,206.3 L255.0,205.4 L255.3,204.6 L255.6,203.7 L256.0,202.8 L256.3,202.0 L256.6,201.1 L257.0,200.2 L257.3,199.4 L257.6,198.5 L258.0,197.6 L258.3,196.8 L258.6,195.9 L259.0,195.1 L259.3,194.2 L259.7,193.3 L260.0,192.5 L260.4,191.6 L260.7,190.7 L261.1,189.9 L261.4,189.0 L261.8,188.1 L262.1,187.3 L262.5,186.4 L262.9,185.6 L263.2,184.7 L263.6,183.8 L264.0,183.0 L264.3,182.1 L264.7,181.3 L265.1,180.4 L265.4,179.5 L265.8,178.7 L266.2,177.8 L266.6,177.0 L267.0,176.1 L267.3,175.2 L267.7,174.4 L268.1,173.5 L268.5,172.7 L268.9,171.8 L269.3,171.0 L269.7,170.1 L270.1,169.2 L270.5,168.4 L270.9,167.5 L271.3,166.7 L271.7,165.8 L272.1,165.0 L272.5,164.1 L272.9,163.3 L273.3,162.4 L273.7,161.6 L274.1,160.7 L274.5,159.9 L274.9,159.0 L275.4,158.1 L275.8,157.3 L276.2,156.4 L276.6,155.6 L277.1,154.8 L277.5,153.9 L277.9,153.1 L278.3,152.2 L278.8,151.4 L279.2,150.5 L279.6,149.7 L280.1,148.8 L280.5,148.0 L281.0,147.1 L281.4,146.3 L281.8,145.4 L282.3,144.6 L282.7,143.8 L283.2,142.9 L283.6,142.1 L284.1,141.2 L284.6,140.4 L285.0,139.6 L285.5,138.7 L285.9,137.9 L286.4,137.0 L286.9,136.2 L287.3,135.4 L287.8,134.5 L288.3,133.7 L288.7,132.9 L289.2,132.0 L289.7,131.2 L290.2,130.4 L290.6,129.5 L291.1,128.7 L291.6,127.9 L292.1,127.1 L292.6,126.2 L293.1,125.4 L293.5,124.6 L294.0,123.7 L294.5,122.9 L295.0,122.1 L295.5,121.3 L296.0,120.4 L296.5,119.6 L297.0,118.8 L297.5,118.0 L298.0,117.2 L298.5,116.3 L299.0,115.5 L299.5,114.7 L300.1,113.9 L300.6,113.1 L301.1,112.3 L301.6,111.4 L302.1,110.6 L302.6,109.8 L303.2,109.0 L303.7,108.2 L304.2,107.4"/>
<path id="w3" d="M248.1,204.8 L248.5,204.1 L248.9,203.3 L249.3,202.5 L249.7,201.8 L250.1,201.0 L250.5,200.2 L250.9,199.5 L251.3,198.7 L251.7,197.9 L252.1,197.2 L252.5,196.4 L252.9,195.6 L253.3,194.9 L253.8,194.1 L254.2,193.3 L254.6,192.6 L255.0,191.8 L255.4,191.1 L255.9,190.3 L256.3,189.5 L256.7,188.8 L257.1,188.0 L257.6,187.2 L258.0,186.5 L258.4,185.7 L258.9,185.0 L259.3,184.2 L259.7,183.4 L260.2,182.7 L260.6,181.9 L261.1,181.2 L261.5,180.4 L262.0,179.6 L262.4,178.9 L262.9,178.1 L263.3,177.4 L263.8,176.6 L264.2,175.8 L264.7,175.1 L265.1,174.3 L265.6,173.6 L266.1,172.8 L266.5,172.1 L267.0,171.3 L267.5,170.5 L267.9,169.8 L268.4,169.0 L268.9,168.3 L269.4,167.5 L269.8,166.8 L270.3,166.0 L270.8,165.3 L271.3,164.5 L271.8,163.8 L272.2,163.0 L272.7,162.3 L273.2,161.5 L273.7,160.8 L274.2,160.0 L274.7,159.3 L275.2,158.5 L275.7,157.8 L276.2,157.0 L276.7,156.3 L277.2,155.5 L277.7,154.8 L278.2,154.0 L278.7,153.3 L279.2,152.6 L279.8,151.8 L280.3,151.1 L280.8,150.3 L281.3,149.6 L281.8,148.8 L282.3,148.1 L282.9,147.4 L283.4,146.6 L283.9,145.9 L284.5,145.2 L285.0,144.4 L285.5,143.7 L286.0,142.9 L286.6,142.2 L287.1,141.5 L287.7,140.7 L288.2,140.0 L288.7,139.3 L289.3,138.5 L289.8,137.8 L290.4,137.1 L290.9,136.3 L291.5,135.6 L292.0,134.9 L292.6,134.2 L293.2,133.4 L293.7,132.7 L294.3,132.0 L294.8,131.2 L295.4,130.5 L296.0,129.8 L296.5,129.1 L297.1,128.3 L297.7,127.6 L298.2,126.9 L298.8,126.2 L299.4,125.5 L300.0,124.7 L300.6,124.0 L301.1,123.3 L301.7,122.6 L302.3,121.9 L302.9,121.2 L303.5,120.4 L304.1,119.7 L304.7,119.0 L305.3,118.3 L305.8,117.6 L306.4,116.9 L307.0,116.2 L307.6,115.5 L308.2,114.8 L308.8,114.1 L309.5,113.3 L310.1,112.6 L310.7,111.9 L311.3,111.2 L311.9,110.5 L312.5,109.8 L313.1,109.1 L313.7,108.4 L314.4,107.7 L315.0,107.0 L315.6,106.3 L316.2,105.6 L316.8,104.9 L317.5,104.3 L318.1,103.6 L318.7,102.9 L319.4,102.2 L320.0,101.5 L320.6,100.8 L321.3,100.1 L321.9,99.4 L322.5,98.7 L323.2,98.1 L323.8,97.4 L324.5,96.7 L325.1,96.0 L325.8,95.3 L326.4,94.6 L327.1,94.0 L327.7,93.3 L328.4,92.6 L329.0,91.9 L329.7,91.3 L330.4,90.6 L331.0,89.9 L331.7,89.3 L332.3,88.6 L333.0,87.9 L333.7,87.3 L334.3,86.6 L335.0,85.9 L335.7,85.3 L336.4,84.6 L337.0,83.9 L337.7,83.3 L338.4,82.6 L339.1,82.0 L339.8,81.3 L340.4,80.6 L341.1,80.0 L341.8,79.3 L342.5,78.7 L343.2,78.0 L343.9,77.4 L344.6,76.7 L345.3,76.1 L346.0,75.5 L346.7,74.8 L347.4,74.2 L348.1,73.5 L348.8,72.9 L349.5,72.2 L350.2,71.6 L350.9,71.0 L351.6,70.3 L352.3,69.7 L353.0,69.1 L353.7,68.4 L354.4,67.8 L355.1,67.2 L355.9,66.6 L356.6,65.9 L357.3,65.3 L358.0,64.7 L358.7,64.1 L359.5,63.5 L360.2,62.8"/>
<path id="w4" d="M566.7,211.6 L567.2,212.1 L567.6,212.7 L568.1,213.3 L568.5,213.8 L569.0,214.4 L569.4,215.0 L569.9,215.5 L570.3,216.1 L570.8,216.7 L571.2,217.3 L571.7,217.9 L572.1,218.4 L572.6,219.0 L573.0,219.6 L573.4,220.2 L573.9,220.8 L574.3,221.4 L574.8,222.0 L575.2,222.6 L575.6,223.2 L576.1,223.8 L576.5,224.4 L576.9,225.0 L577.3,225.6 L577.8,226.2 L578.2,226.8 L578.6,227.5 L579.0,228.1 L579.5,228.7 L579.9,229.3 L580.3,230.0 L580.7,230.6 L581.1,231.2 L581.5,231.8 L582.0,232.5 L582.4,233.1 L582.8,233.7 L583.2,234.4 L583.6,235.0 L584.0,235.7 L584.4,236.3 L584.8,237.0 L585.2,237.6 L585.6,238.3 L586.0,238.9 L586.4,239.6 L586.8,240.2 L587.2,240.9 L587.6,241.6 L587.9,242.2 L588.3,242.9 L588.7,243.5 L589.1,244.2 L589.5,244.9 L589.9,245.6 L590.2,246.2 L590.6,246.9 L591.0,247.6 L591.4,248.3 L591.7,249.0 L592.1,249.6 L592.5,250.3 L592.8,251.0 L593.2,251.7 L593.5,252.4 L593.9,253.1 L594.3,253.8 L594.6,254.5 L595.0,255.2 L595.3,255.9 L595.7,256.6 L596.0,257.3 L596.4,258.0 L596.7,258.7 L597.0,259.4 L597.4,260.1 L597.7,260.8 L598.1,261.5 L598.4,262.3 L598.7,263.0 L599.0,263.7 L599.4,264.4 L599.7,265.1 L600.0,265.8 L600.3,266.6 L600.7,267.3 L601.0,268.0 L601.3,268.8 L601.6,269.5 L601.9,270.2 L602.2,271.0 L602.5,271.7 L602.8,272.4 L603.1,273.2 L603.4,273.9 L603.7,274.6 L604.0,275.4 L604.3,276.1 L604.6,276.9 L604.9,277.6 L605.2,278.4 L605.5,279.1 L605.7,279.9 L606.0,280.6 L606.3,281.4 L606.6,282.1 L606.8,282.9 L607.1,283.6 L607.4,284.4 L607.6,285.2 L607.9,285.9 L608.2,286.7 L608.4,287.4 L608.7,288.2 L608.9,289.0 L609.2,289.7 L609.4,290.5 L609.7,291.3 L609.9,292.0 L610.2,292.8 L610.4,293.6 L610.6,294.4 L610.9,295.1 L611.1,295.9 L611.3,296.7 L611.6,297.5 L611.8,298.2 L612.0,299.0 L612.2,299.8 L612.4,300.6 L612.7,301.4 L612.9,302.2 L613.1,302.9 L613.3,303.7 L613.5,304.5 L613.7,305.3 L613.9,306.1 L614.1,306.9 L614.3,307.7 L614.5,308.4 L614.6,309.2 L614.8,310.0 L615.0,310.8 L615.2,311.6 L615.4,312.4 L615.5,313.2 L615.7,314.0 L615.9,314.8 L616.1,315.6 L616.2,316.4 L616.4,317.2 L616.5,318.0 L616.7,318.8 L616.8,319.6 L617.0,320.4 L617.1,321.2 L617.3,322.0 L617.4,322.8 L617.6,323.6 L617.7,324.4 L617.8,325.2 L618.0,326.0 L618.1,326.8 L618.2,327.6 L618.4,328.4 L618.5,329.2 L618.6,330.0 L618.7,330.8 L618.8,331.6 L618.9,332.4 L619.0,333.2 L619.1,334.0 L619.2,334.8 L619.3,335.6 L619.4,336.4 L619.5,337.3 L619.6,338.1 L619.7,338.9 L619.8,339.7 L619.9,340.5 L619.9,341.3 L620.0,342.1 L620.1,342.9 L620.2,343.7 L620.2,344.5 L620.3,345.3 L620.3,346.1 L620.4,346.9 L620.5,347.7 L620.5,348.6 L620.6,349.4 L620.6,350.2 L620.6,351.0 L620.7,351.8 L620.7,352.6 L620.8,353.4 L620.8,354.2 L620.8,355.0 L620.8,355.8"/>
<path id="w5" d="M377.3,498.5 L378.1,498.7 L378.8,498.8 L379.6,499.0 L380.4,499.1 L381.1,499.3 L381.9,499.4 L382.7,499.6 L383.4,499.7 L384.2,499.9 L385.0,500.0 L385.7,500.2 L386.5,500.3 L387.3,500.4 L388.0,500.6 L388.8,500.7 L389.6,500.8 L390.3,501.0 L391.1,501.1 L391.9,501.2 L392.7,501.3 L393.4,501.5 L394.2,501.6 L395.0,501.7 L395.7,501.8 L396.5,502.0 L397.3,502.1 L398.1,502.2 L398.8,502.3 L399.6,502.4 L400.4,502.5 L401.2,502.6 L401.9,502.7 L402.7,502.8 L403.5,502.9 L404.3,503.0 L405.1,503.1 L405.8,503.2 L406.6,503.3 L407.4,503.4 L408.2,503.5 L409.0,503.6 L409.7,503.6 L410.5,503.7 L411.3,503.8 L412.1,503.9 L412.9,503.9 L413.7,504.0 L414.4,504.1 L415.2,504.1 L416.0,504.2 L416.8,504.3 L417.6,504.3 L418.4,504.4 L419.2,504.4 L419.9,504.5 L420.7,504.5 L421.5,504.6 L422.3,504.6 L423.1,504.7 L423.9,504.7 L424.7,504.7 L425.5,504.8 L426.3,504.8 L427.0,504.8 L427.8,504.8 L428.6,504.9 L429.4,504.9 L430.2,504.9 L431.0,504.9 L431.8,504.9 L432.6,504.9 L433.4,504.9 L434.2,504.9 L434.9,504.9 L435.7,504.9 L436.5,504.9 L437.3,504.9 L438.1,504.9 L438.9,504.9 L439.7,504.9 L440.5,504.9 L441.3,504.9 L442.1,504.9 L442.9,504.9 L443.6,504.8 L444.4,504.8 L445.2,504.8 L446.0,504.8 L446.8,504.7 L447.6,504.7 L448.4,504.7 L449.2,504.7 L449.9,504.6 L450.7,504.6 L451.5,504.5 L452.3,504.5 L453.1,504.5 L453.9,504.4 L454.7,504.4 L455.5,504.3 L456.2,504.3 L457.0,504.2 L457.8,504.2 L458.6,504.1 L459.4,504.0 L460.2,504.0 L461.0,503.9 L461.7,503.9 L462.5,503.8 L463.3,503.7 L464.1,503.7 L464.9,503.6 L465.7,503.5 L466.4,503.4 L467.2,503.4 L468.0,503.3 L468.8,503.2 L469.6,503.1 L470.3,503.0 L471.1,502.9 L471.9,502.9 L472.7,502.8 L473.5,502.7 L474.2,502.6 L475.0,502.5 L475.8,502.4 L476.6,502.3 L477.3,502.2 L478.1,502.1 L478.9,502.0 L479.7,501.9 L480.4,501.8 L481.2,501.6 L482.0,501.5 L482.7,501.4 L483.5,501.3 L484.3,501.2 L485.1,501.1 L485.8,500.9 L486.6,500.8 L487.4,500.7 L488.1,500.6 L488.9,500.4 L489.7,500.3 L490.4,500.2 L491.2,500.0 L492.0,499.9 L492.7,499.8 L493.5,499.6 L494.2,499.5 L495.0,499.3 L495.8,499.2 L496.5,499.0 L497.3,498.9 L498.1,498.7 L498.8,498.6 L499.6,498.4 L500.3,498.3 L501.1,498.1 L501.8,497.9 L502.6,497.8 L503.3,497.6 L504.1,497.4 L504.8,497.3 L505.6,497.1 L506.3,496.9 L507.1,496.8 L507.8,496.6 L508.6,496.4 L509.3,496.2 L510.1,496.1 L510.8,495.9 L511.6,495.7 L512.3,495.5 L513.1,495.3 L513.8,495.1 L514.5,494.9 L515.3,494.7 L516.0,494.5 L516.8,494.4 L517.5,494.2 L518.2,494.0 L519.0,493.8 L519.7,493.5 L520.4,493.3 L521.2,493.1 L521.9,492.9 L522.6,492.7 L523.4,492.5 L524.1,492.3 L524.8,492.1 L525.6,491.9 L526.3,491.6 L527.0,491.4 L527.7,491.2 L528.5,491.0 L529.2,490.8 L529.9,490.5 L530.6,490.3"/>
<path id="w6" d="M361.5,259.0 L361.9,258.5 L362.3,257.9 L362.7,257.4 L363.1,256.8 L363.6,256.3 L364.0,255.8 L364.4,255.2 L364.8,254.7 L365.2,254.1 L365.7,253.6 L366.1,253.1 L366.5,252.5 L366.9,252.0 L367.4,251.4 L367.8,250.9 L368.3,250.4 L368.7,249.8 L369.1,249.3 L369.6,248.8 L370.0,248.3 L370.5,247.7 L370.9,247.2 L371.4,246.7 L371.8,246.2 L372.3,245.6 L372.7,245.1 L373.2,244.6 L373.7,244.1 L374.1,243.5 L374.6,243.0 L375.1,242.5 L375.5,242.0 L376.0,241.5 L376.5,241.0 L376.9,240.5 L377.4,239.9 L377.9,239.4 L378.4,238.9 L378.9,238.4 L379.4,237.9 L379.8,237.4 L380.3,236.9 L380.8,236.4 L381.3,235.9 L381.8,235.4 L382.3,234.9 L382.8,234.4 L383.3,233.9 L383.8,233.4 L384.3,232.9 L384.8,232.4 L385.3,231.9 L385.8,231.4 L386.3,231.0 L386.8,230.5 L387.4,230.0 L387.9,229.5 L388.4,229.0 L388.9,228.5 L389.4,228.1 L390.0,227.6 L390.5,227.1 L391.0,226.6 L391.5,226.2 L392.1,225.7 L392.6,225.2 L393.1,224.7 L393.7,224.3 L394.2,223.8 L394.7,223.3 L395.3,222.9 L395.8,222.4 L396.4,222.0 L396.9,221.5 L397.4,221.0 L398.0,220.6 L398.5,220.1 L399.1,219.7 L399.6,219.2 L400.2,218.8 L400.8,218.3 L401.3,217.9 L401.9,217.4 L402.4,217.0 L403.0,216.6 L403.5,216.1 L404.1,215.7 L404.7,215.2 L405.2,214.8 L405.8,214.4 L406.4,214.0 L406.9,213.5 L407.5,213.1 L408.1,212.7 L408.7,212.2 L409.2,211.8 L409.8,211.4 L410.4,211.0 L411.0,210.6 L411.6,210.2 L412.1,209.7 L412.7,209.3 L413.3,208.9 L413.9,208.5 L414.5,208.1 L415.1,207.7 L415.7,207.3 L416.2,206.9 L416.8,206.5 L417.4,206.1 L418.0,205.7 L418.6,205.3 L419.2,204.9 L419.8,204.5 L420.4,204.1 L421.0,203.8 L421.6,203.4 L422.2,203.0 L422.8,202.6 L423.4,202.2 L424.0,201.9 L424.6,201.5 L425.2,201.1 L425.8,200.7 L426.5,200.4 L427.1,200.0 L427.7,199.6 L428.3,199.3 L428.9,198.9 L429.5,198.6 L430.1,198.2 L430.7,197.8 L431.4,197.5 L432.0,197.1 L432.6,196.8 L433.2,196.4 L433.8,196.1 L434.5,195.8 L435.1,195.4 L435.7,195.1 L436.3,194.7 L436.9,194.4 L437.6,194.1 L438.2,193.8 L438.8,193.4 L439.4,193.1 L440.1,192.8 L440.7,192.5 L441.3,192.1 L442.0,191.8 L442.6,191.5 L443.2,191.2 L443.8,190.9 L444.5,190.6 L445.1,190.3 L445.7,190.0 L446.4,189.7 L447.0,189.4 L447.7,189.1 L448.3,188.8 L448.9,188.5 L449.6,188.2 L450.2,187.9 L450.8,187.6 L451.5,187.3 L452.1,187.0 L452.8,186.8 L453.4,186.5 L454.0,186.2 L454.7,185.9 L455.3,185.7 L456.0,185.4 L456.6,185.1 L457.2,184.9 L457.9,184.6 L458.5,184.3 L459.2,184.1 L459.8,183.8 L460.5,183.6 L461.1,183.3 L461.7,183.1 L462.4,182.8 L463.0,182.6 L463.7,182.3 L464.3,182.1 L465.0,181.9 L465.6,181.6 L466.3,181.4 L466.9,181.2 L467.6,180.9 L468.2,180.7 L468.9,180.5 L469.5,180.3 L470.2,180.1 L470.8,179.8 L471.4,179.6 L472.1,179.4 L472.7,179.2 L473.4,179.0"/>
<path id="w7" d="M406.9,202.5 L407.5,202.2 L408.2,202.0 L408.8,201.8 L409.5,201.5 L410.1,201.3 L410.7,201.1 L411.4,200.8 L412.0,200.6 L412.7,200.4 L413.3,200.2 L413.9,200.0 L414.6,199.7 L415.2,199.5 L415.9,199.3 L416.5,199.1 L417.2,198.9 L417.8,198.7 L418.5,198.5 L419.1,198.3 L419.8,198.1 L420.5,197.9 L421.1,197.7 L421.8,197.5 L422.4,197.3 L423.1,197.2 L423.8,197.0 L424.4,196.8 L425.1,196.6 L425.8,196.4 L426.4,196.3 L427.1,196.1 L427.8,195.9 L428.4,195.8 L429.1,195.6 L429.8,195.4 L430.5,195.3 L431.1,195.1 L431.8,194.9 L432.5,194.8 L433.2,194.6 L433.8,194.5 L434.5,194.3 L435.2,194.2 L435.9,194.1 L436.6,193.9 L437.3,193.8 L437.9,193.6 L438.6,193.5 L439.3,193.4 L440.0,193.2 L440.7,193.1 L441.4,193.0 L442.1,192.9 L442.7,192.7 L443.4,192.6 L444.1,192.5 L444.8,192.4 L445.5,192.3 L446.2,192.2 L446.9,192.1 L447.6,192.0 L448.3,191.9 L449.0,191.8 L449.7,191.7 L450.4,191.6 L451.1,191.5 L451.8,191.4 L452.5,191.3 L453.2,191.2 L453.9,191.1 L454.6,191.0 L455.3,191.0 L456.0,190.9 L456.7,190.8 L457.4,190.7 L458.1,190.7 L458.8,190.6 L459.5,190.5 L460.2,190.5 L460.9,190.4 L461.6,190.4 L462.3,190.3 L463.0,190.3 L463.7,190.2 L464.4,190.2 L465.1,190.1 L465.8,190.1 L466.5,190.0 L467.2,190.0 L467.9,190.0 L468.6,189.9 L469.3,189.9 L470.1,189.9 L470.8,189.8 L471.5,189.8 L472.2,189.8 L472.9,189.8 L473.6,189.7 L474.3,189.7 L475.0,189.7 L475.7,189.7 L476.4,189.7 L477.1,189.7 L477.8,189.7 L478.5,189.7 L479.2,189.7 L480.0,189.7 L480.7,189.7 L481.4,189.7 L482.1,189.7 L482.8,189.7 L483.5,189.7 L484.2,189.8 L484.9,189.8 L485.6,189.8 L486.3,189.8 L487.0,189.9 L487.7,189.9 L488.4,189.9 L489.1,190.0 L489.8,190.0 L490.5,190.0 L491.2,190.1 L491.9,190.1 L492.7,190.2 L493.4,190.2 L494.1,190.3 L494.8,190.3 L495.5,190.4 L496.2,190.4 L496.9,190.5 L497.6,190.5 L498.3,190.6 L499.0,190.7 L499.7,190.7 L500.4,190.8 L501.1,190.9 L501.8,191.0 L502.5,191.0 L503.2,191.1 L503.9,191.2 L504.5,191.3 L505.2,191.4 L505.9,191.5 L506.6,191.6 L507.3,191.7 L508.0,191.8 L508.7,191.9 L509.4,192.0 L510.1,192.1 L510.8,192.2 L511.5,192.3 L512.2,192.4 L512.8,192.5 L513.5,192.6 L514.2,192.7 L514.9,192.9 L515.6,193.0 L516.3,193.1 L517.0,193.2 L517.6,193.4 L518.3,193.5 L519.0,193.6 L519.7,193.8 L520.4,193.9 L521.0,194.1 L521.7,194.2 L522.4,194.3 L523.1,194.5 L523.7,194.6 L524.4,194.8 L525.1,194.9 L525.8,195.1 L526.4,195.3 L527.1,195.4 L527.8,195.6 L528.4,195.8 L529.1,195.9 L529.8,196.1 L530.4,196.3 L531.1,196.4 L531.7,196.6 L532.4,196.8 L533.1,197.0 L533.7,197.2 L534.4,197.3 L535.0,197.5 L535.7,197.7 L536.3,197.9 L537.0,198.1 L537.6,198.3 L538.3,198.5 L538.9,198.7 L539.6,198.9 L540.2,199.1 L540.9,199.3 L541.5,199.5 L542.2,199.7 L542.8,200.0"/>
</defs>
<text transform="translate(483.2,59.6) scale(0.780,1)" class="n" font-size="15.8">12</text>
<text transform="translate(333.0,122.8) scale(0.835,1)" class="n" font-size="15.8">11</text>
<text transform="translate(271.0,223.8) scale(0.780,1)" class="n" font-size="15.8">10</text>
<text transform="translate(267.2,326.1) scale(0.780,1)" class="n" font-size="15.8">09</text>
<text transform="translate(309.8,411.1) scale(0.780,1)" class="n" font-size="15.8">08</text>
<text transform="translate(382.7,463.0) scale(0.780,1)" class="n" font-size="15.8">07</text>
<text transform="translate(467.4,473.4) scale(0.780,1)" class="n" font-size="15.8">06</text>
<text transform="translate(542.5,441.5) scale(0.780,1)" class="n" font-size="15.8">05</text>
<text transform="translate(586.2,377.3) scale(0.780,1)" class="n" font-size="15.8">04</text>
<text transform="translate(591.0,306.3) scale(0.780,1)" class="n" font-size="15.8">03</text>
<text transform="translate(556.4,245.0) scale(0.780,1)" class="n" font-size="15.8">02</text>
<text transform="translate(502.5,215.7) scale(0.780,1)" class="n" font-size="15.8">01</text>
<text transform="translate(420.4,142.2) scale(0.841,1)" class="l" font-size="9.4">Financial Freedom</text>
<text transform="translate(335.6,199.0) scale(0.850,1)" class="l" font-size="9.4">Debt is Paid Down</text>
<text transform="translate(311.4,280.4) scale(0.835,1)" class="l" font-size="9.4">Harness Rental Income</text>
<text transform="translate(322.6,334.7) scale(0.852,1)" class="l" font-size="9.4">Continue to Build</text>
<text transform="translate(323.5,344.9) scale(0.881,1)" class="l" font-size="9.4">or Rationalise Portfolio</text>
<text transform="translate(369.9,393.4) scale(0.906,1)" class="l" font-size="9.4">5th Property</text>
<text transform="translate(370.0,404.1) scale(0.859,1)" class="l" font-size="9.4">Purchase</text>
<text transform="translate(423.3,424.9) scale(0.906,1)" class="l" font-size="9.4">4th Property</text>
<text transform="translate(423.5,435.3) scale(0.841,1)" class="l" font-size="9.4">Purchase</text>
<text transform="translate(487.5,416.7) scale(0.929,1)" class="l" font-size="9.4">Property</text>
<text transform="translate(487.6,427.5) scale(0.966,1)" class="l" font-size="9.4">Portfolio</text>
<text transform="translate(488.3,437.5) scale(0.840,1)" class="l" font-size="9.4">Review</text>
<text transform="translate(538.0,387.4) scale(0.903,1)" class="l" font-size="9.4">3rd Property</text>
<text transform="translate(538.0,397.8) scale(0.823,1)" class="l" font-size="9.4">Purchase</text>
<text transform="translate(561.5,335.0) scale(0.877,1)" class="l" font-size="9.4">2nd Property</text>
<text transform="translate(561.0,345.0) scale(0.816,1)" class="l" font-size="9.4">Purchase</text>
<text transform="translate(556.3,283.0) scale(0.888,1)" class="l" font-size="9.4">1st Property</text>
<text transform="translate(556.0,293.1) scale(0.831,1)" class="l" font-size="9.4">Purchase</text>
<text transform="translate(520.3,243.7) scale(0.874,1)" class="l" font-size="9.4">Investment</text>
<text transform="translate(521.2,254.1) scale(0.900,1)" class="l" font-size="9.4">Strategy</text>
<text transform="translate(458.0,220.8) scale(0.877,1)" class="l" font-size="9.4">Investment</text>
<text transform="translate(458.8,230.5) scale(0.859,1)" class="l" font-size="9.4">Consultation</text>
<text transform="translate(455.9,283.9) scale(0.743,1)" class="t" font-size="22.4">THE PIA</text>
<text transform="translate(456.0,306.3) scale(0.740,1)" class="t" font-size="22.2">DIFFERENCE</text>
<text transform="translate(455.7,321.4) scale(0.815,1)" class="s" font-size="9.8">Ongoing investment advice</text>
<text transform="translate(455.7,331.6) scale(0.826,1)" class="s" font-size="9.8">Property management &amp; tenancy</text>
<text transform="translate(455.7,341.7) scale(0.820,1)" class="s" font-size="9.8">Leverage equity &amp; finance</text>
<text transform="translate(455.7,351.9) scale(0.843,1)" class="s" font-size="9.8">Portfolio management</text>
<text class="c" font-size="18.8" transform="matrix(0.9971 0.0276 0.0276 0.7391 -6.51 61.62)"><textPath href="#w1" startOffset="40.2">FINANCIAL</textPath></text>
<text class="c" font-size="18.8" transform="matrix(0.9587 0.1012 0.1012 0.7517 -8.44 20.72)"><textPath href="#w2" startOffset="43.7">FREEDOM</textPath></text>
<text class="c" font-size="18.8" transform="matrix(0.9012 0.1262 0.1262 0.8388 13.01 -16.62)"><textPath href="#w3" startOffset="43.8">JOURNEY</textPath></text>
<text class="c" font-size="18.8" transform="matrix(0.9686 -0.0824 -0.0824 0.7841 41.94 109.95)"><textPath href="#w4" startOffset="26.6">STRATEGY</textPath></text>
<text class="c" font-size="18.8" transform="matrix(0.7635 0.0138 0.0138 0.9992 100.74 -5.89)"><textPath href="#w5" startOffset="35.2">GROWTH</textPath></text>
<text class="c" font-size="19.0" transform="matrix(0.7978 0.1446 0.1446 0.8966 52.83 -37.78)"><textPath href="#w6" startOffset="27.7">GETTING</textPath></text>
<text class="c" font-size="18.6" transform="matrix(0.7277 0.0050 0.0050 0.9999 128.40 -2.36)"><textPath href="#w7" startOffset="26.0">STARTED</textPath></text>
</svg>
<div class="p" style="left:13.0px;top:107.1px;color:#ef5660;letter-spacing:-0.14px">Your goals are coming to</div>
<div class="p" style="left:13.0px;top:131.1px;color:#ef5660;letter-spacing:-0.12px">fruition and your debt is being</div>
<div class="p" style="left:13.0px;top:155.2px;color:#ef5660;letter-spacing:-0.08px">paid down. Now harness</div>
<div class="p" style="left:13.0px;top:179.2px;color:#ef5660;letter-spacing:0.03px">rental income for your own</div>
<div class="p" style="left:13.0px;top:203.3px;color:#ef5660;letter-spacing:-0.02px">lifestyle, family goals or</div>
<div class="p" style="left:13.0px;top:227.3px;color:#ef5660;letter-spacing:0.08px">retirement benefits.</div>
<div class="p" style="left:496.2px;top:93.7px;color:#f5a623;letter-spacing:-0.15px">Define your goals and</div>
<div class="p" style="left:496.2px;top:117.7px;color:#f5a623;letter-spacing:0.08px">timeframes to achieve</div>
<div class="p" style="left:496.2px;top:141.7px;color:#f5a623;letter-spacing:0.03px">financial freedom</div>
<div class="p" style="left:643.2px;top:186.0px;color:#3795d9;letter-spacing:0.26px">We'll help you create a</div>
<div class="p" style="left:643.2px;top:210.0px;color:#3795d9;letter-spacing:-0.05px">personalised property</div>
<div class="p" style="left:643.2px;top:234.0px;color:#3795d9;letter-spacing:0.07px">investment strategy to</div>
<div class="p" style="left:643.2px;top:258.0px;color:#3795d9;letter-spacing:-0.08px">finance your dreams over</div>
<div class="p" style="left:643.2px;top:281.9px;color:#3795d9;letter-spacing:0.17px">the long term. We'll also</div>
<div class="p" style="left:643.2px;top:305.9px;color:#3795d9;letter-spacing:0.00px">help you manage your</div>
<div class="p" style="left:643.2px;top:329.9px;color:#3795d9;letter-spacing:0.04px">property and secure the</div>
<div class="p" style="left:643.2px;top:353.8px;color:#3795d9;letter-spacing:-0.09px">right tenants.</div>
<div class="p" style="left:237.5px;top:524.1px;color:#17a652;letter-spacing:-0.01px">Watch it grow! Leverage your equity or finance to</div>
<div class="p" style="left:215.9px;top:548.0px;color:#17a652;letter-spacing:-0.02px">increase your portfolio and manage your properties for</div>
<div class="p" style="left:368.9px;top:572.0px;color:#17a652;letter-spacing:-0.01px">greatest return.</div>
</body></html>
